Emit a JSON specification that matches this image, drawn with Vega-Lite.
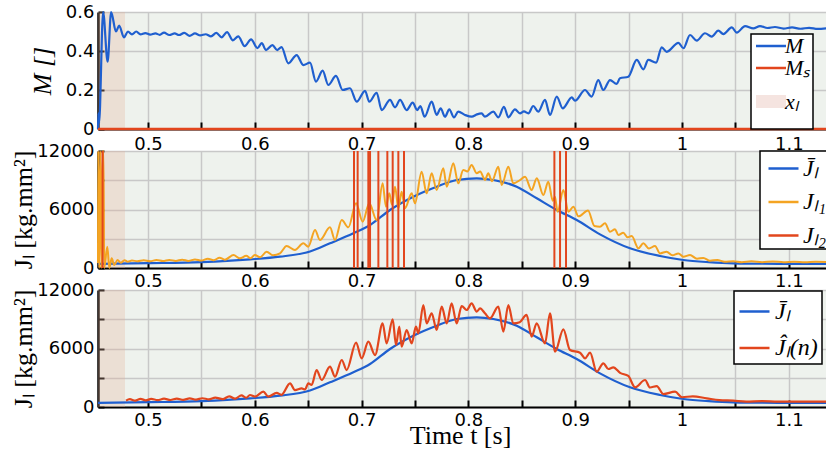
{
  "$schema": "https://vega.github.io/schema/vega-lite/v6.json",
  "autosize": {"type": "none"},
  "padding": {"left": 98, "top": 12, "right": 0, "bottom": 49},
  "background": "white",
  "params": [{"name": "height", "value": 395}],
  "spacing": 22,
  "bounds": "flush",
  "resolve": {"scale": {"color": "independent"}, "legend": {"color": "independent"}},
  "config": {
    "view": {"fill": "#eef2ed", "stroke": null},
    "axis": {
      "labelFont": "DejaVu Sans", "labelFontSize": 18, "labelColor": "black",
      "titleFont": "Liberation Serif", "titleFontSize": 26, "titleFontStyle": "italic", "titleFontWeight": "normal", "titleColor": "black",
      "gridColor": "#c8c8c8", "gridWidth": 1.5, "gridOpacity": 1,
      "domainColor": "black", "tickColor": "black", "tickWidth": 2, "tickSize": -7,
      "labelOverlap": false, "labelFlush": false
    },
    "axisX": {"domainWidth": 2, "labelPadding": 11},
    "axisY": {"domainWidth": 2.5, "labelPadding": 10, "tickSize": -6},
    "legend": {
      "orient": "none", "labelFont": "Liberation Serif", "labelFontStyle": "italic", "labelColor": "black",
      "strokeColor": "black", "fillColor": "white", "symbolType": "stroke", "symbolSize": 900,
      "symbolStrokeWidth": 2.5, "cornerRadius": 0, "labelLimit": 300
    }
  },
  "datasets": {
    "xl": [{"a": 0.4532, "b": 0.4785}],
    "ms": [{"t": 0.4532, "v": 0, "s": "Mₛ"}, {"t": 1.135, "v": 0, "s": "Mₛ"}],
    "m": [
      {"t":0.4532,"v":0,"s":"M"},{"t":0.4536,"v":0.08,"s":"M"},{"t":0.4542,"v":0.03,"s":"M"},{"t":0.458,"v":0.6,"s":"M"},
      {"t":0.4622,"v":0.345,"s":"M"},{"t":0.4655,"v":0.6,"s":"M"},{"t":0.47,"v":0.5,"s":"M"},{"t":0.473,"v":0.53,"s":"M"},
      {"t":0.4775,"v":0.47,"s":"M"},{"t":0.4812,"v":0.5,"s":"M"},{"t":0.485,"v":0.485,"s":"M"},{"t":0.489,"v":0.5,"s":"M"},
      {"t":0.493,"v":0.485,"s":"M"},{"t":0.4975,"v":0.492,"s":"M"},{"t":0.502,"v":0.484,"s":"M"},{"t":0.507,"v":0.49,"s":"M"},
      {"t":0.511,"v":0.483,"s":"M"},{"t":0.515,"v":0.494,"s":"M"},{"t":0.52,"v":0.482,"s":"M"},{"t":0.525,"v":0.49,"s":"M"},
      {"t":0.529,"v":0.482,"s":"M"},{"t":0.534,"v":0.493,"s":"M"},{"t":0.539,"v":0.478,"s":"M"},{"t":0.544,"v":0.49,"s":"M"},
      {"t":0.549,"v":0.48,"s":"M"},{"t":0.554,"v":0.486,"s":"M"},{"t":0.559,"v":0.475,"s":"M"},{"t":0.564,"v":0.493,"s":"M"},
      {"t":0.569,"v":0.47,"s":"M"},{"t":0.574,"v":0.497,"s":"M"},{"t":0.5795,"v":0.455,"s":"M"},{"t":0.5845,"v":0.475,"s":"M"},
      {"t":0.5905,"v":0.425,"s":"M"},{"t":0.5965,"v":0.46,"s":"M"},{"t":0.6025,"v":0.415,"s":"M"},{"t":0.6065,"v":0.44,"s":"M"},
      {"t":0.6105,"v":0.405,"s":"M"},{"t":0.6165,"v":0.43,"s":"M"},{"t":0.621,"v":0.405,"s":"M"},{"t":0.625,"v":0.42,"s":"M"},
      {"t":0.6314,"v":0.337,"s":"M"},{"t":0.6392,"v":0.379,"s":"M"},{"t":0.6454,"v":0.328,"s":"M"},{"t":0.6517,"v":0.34,"s":"M"},
      {"t":0.6573,"v":0.243,"s":"M"},{"t":0.6635,"v":0.299,"s":"M"},{"t":0.6688,"v":0.226,"s":"M"},{"t":0.676,"v":0.272,"s":"M"},
      {"t":0.6823,"v":0.2,"s":"M"},{"t":0.6891,"v":0.209,"s":"M"},{"t":0.6954,"v":0.14,"s":"M"},{"t":0.7032,"v":0.196,"s":"M"},
      {"t":0.7072,"v":0.14,"s":"M"},{"t":0.7141,"v":0.186,"s":"M"},{"t":0.7188,"v":0.097,"s":"M"},{"t":0.7266,"v":0.149,"s":"M"},
      {"t":0.7313,"v":0.111,"s":"M"},{"t":0.736,"v":0.149,"s":"M"},{"t":0.7422,"v":0.097,"s":"M"},{"t":0.7478,"v":0.135,"s":"M"},
      {"t":0.7521,"v":0.097,"s":"M"},{"t":0.755,"v":0.118,"s":"M"},{"t":0.759,"v":0.063,"s":"M"},{"t":0.7656,"v":0.14,"s":"M"},
      {"t":0.7703,"v":0.072,"s":"M"},{"t":0.774,"v":0.106,"s":"M"},{"t":0.7781,"v":0.063,"s":"M"},{"t":0.7821,"v":0.101,"s":"M"},
      {"t":0.7865,"v":0.06,"s":"M"},{"t":0.7905,"v":0.089,"s":"M"},{"t":0.7968,"v":0.072,"s":"M"},{"t":0.8031,"v":0.063,"s":"M"},
      {"t":0.808,"v":0.075,"s":"M"},{"t":0.8124,"v":0.08,"s":"M"},{"t":0.8155,"v":0.063,"s":"M"},{"t":0.8233,"v":0.089,"s":"M"},
      {"t":0.828,"v":0.06,"s":"M"},{"t":0.8333,"v":0.114,"s":"M"},{"t":0.8374,"v":0.06,"s":"M"},{"t":0.8436,"v":0.101,"s":"M"},
      {"t":0.8483,"v":0.08,"s":"M"},{"t":0.852,"v":0.09,"s":"M"},{"t":0.8561,"v":0.08,"s":"M"},{"t":0.8607,"v":0.118,"s":"M"},
      {"t":0.8654,"v":0.089,"s":"M"},{"t":0.8717,"v":0.149,"s":"M"},{"t":0.8764,"v":0.072,"s":"M"},{"t":0.8827,"v":0.166,"s":"M"},
      {"t":0.8883,"v":0.106,"s":"M"},{"t":0.8968,"v":0.162,"s":"M"},{"t":0.8998,"v":0.145,"s":"M"},{"t":0.9092,"v":0.2,"s":"M"},
      {"t":0.9154,"v":0.166,"s":"M"},{"t":0.9216,"v":0.251,"s":"M"},{"t":0.9263,"v":0.2,"s":"M"},{"t":0.9326,"v":0.251,"s":"M"},
      {"t":0.9388,"v":0.231,"s":"M"},{"t":0.9419,"v":0.26,"s":"M"},{"t":0.9497,"v":0.268,"s":"M"},{"t":0.9576,"v":0.354,"s":"M"},
      {"t":0.9638,"v":0.306,"s":"M"},{"t":0.9684,"v":0.354,"s":"M"},{"t":0.9757,"v":0.34,"s":"M"},{"t":0.981,"v":0.419,"s":"M"},
      {"t":0.9857,"v":0.396,"s":"M"},{"t":0.9966,"v":0.442,"s":"M"},{"t":1.0013,"v":0.414,"s":"M"},{"t":1.0075,"v":0.482,"s":"M"},
      {"t":1.0138,"v":0.453,"s":"M"},{"t":1.0215,"v":0.491,"s":"M"},{"t":1.0278,"v":0.474,"s":"M"},{"t":1.034,"v":0.504,"s":"M"},
      {"t":1.0387,"v":0.487,"s":"M"},{"t":1.0466,"v":0.521,"s":"M"},{"t":1.0512,"v":0.494,"s":"M"},{"t":1.059,"v":0.528,"s":"M"},
      {"t":1.0667,"v":0.516,"s":"M"},{"t":1.073,"v":0.528,"s":"M"},{"t":1.08,"v":0.518,"s":"M"},{"t":1.087,"v":0.523,"s":"M"},
      {"t":1.095,"v":0.515,"s":"M"},{"t":1.103,"v":0.521,"s":"M"},{"t":1.111,"v":0.514,"s":"M"},{"t":1.119,"v":0.519,"s":"M"},
      {"t":1.127,"v":0.513,"s":"M"},{"t":1.135,"v":0.516,"s":"M"}
    ],
    "jbar": [
      {"t":0.4532,"v":420,"s":"J̄ₗ"},{"t":0.5,"v":490,"s":"J̄ₗ"},{"t":0.55,"v":600,"s":"J̄ₗ"},{"t":0.5955,"v":880,"s":"J̄ₗ"},
      {"t":0.6236,"v":1160,"s":"J̄ₗ"},{"t":0.6517,"v":1700,"s":"J̄ₗ"},{"t":0.6704,"v":2530,"s":"J̄ₗ"},{"t":0.6923,"v":3560,"s":"J̄ₗ"},
      {"t":0.7079,"v":4410,"s":"J̄ₗ"},{"t":0.7266,"v":5950,"s":"J̄ₗ"},{"t":0.7484,"v":7310,"s":"J̄ₗ"},{"t":0.7703,"v":8340,"s":"J̄ₗ"},
      {"t":0.789,"v":9025,"s":"J̄ₗ"},{"t":0.8078,"v":9200,"s":"J̄ₗ"},{"t":0.8233,"v":9025,"s":"J̄ₗ"},{"t":0.8452,"v":8340,"s":"J̄ₗ"},
      {"t":0.864,"v":7150,"s":"J̄ₗ"},{"t":0.8827,"v":5950,"s":"J̄ₗ"},{"t":0.9014,"v":4920,"s":"J̄ₗ"},{"t":0.9232,"v":3450,"s":"J̄ₗ"},
      {"t":0.9513,"v":2020,"s":"J̄ₗ"},{"t":0.9794,"v":1230,"s":"J̄ₗ"},{"t":1.0012,"v":820,"s":"J̄ₗ"},{"t":1.025,"v":600,"s":"J̄ₗ"},
      {"t":1.048,"v":480,"s":"J̄ₗ"},{"t":1.09,"v":430,"s":"J̄ₗ"},{"t":1.135,"v":420,"s":"J̄ₗ"}
    ],
    "jl1": [
      {"t":0.4532,"v":500,"s":"Jₗ₁"},{"t":0.4534,"v":12000,"s":"Jₗ₁"},{"t":0.4545,"v":0,"s":"Jₗ₁"},{"t":0.4555,"v":12000,"s":"Jₗ₁"},
      {"t":0.4566,"v":0,"s":"Jₗ₁"},{"t":0.4576,"v":12000,"s":"Jₗ₁"},{"t":0.4583,"v":12000,"s":"Jₗ₁"},{"t":0.459,"v":0,"s":"Jₗ₁"},
      {"t":0.4619,"v":2180,"s":"Jₗ₁"},{"t":0.4638,"v":0,"s":"Jₗ₁"},{"t":0.466,"v":990,"s":"Jₗ₁"},{"t":0.4684,"v":300,"s":"Jₗ₁"},
      {"t":0.4715,"v":820,"s":"Jₗ₁"},{"t":0.4745,"v":550,"s":"Jₗ₁"},{"t":0.478,"v":800,"s":"Jₗ₁"},{"t":0.481,"v":650,"s":"Jₗ₁"},
      {"t":0.485,"v":760,"s":"Jₗ₁"},{"t":0.49,"v":700,"s":"Jₗ₁"},{"t":0.496,"v":800,"s":"Jₗ₁"},{"t":0.502,"v":700,"s":"Jₗ₁"},
      {"t":0.508,"v":820,"s":"Jₗ₁"},{"t":0.514,"v":720,"s":"Jₗ₁"},{"t":0.52,"v":830,"s":"Jₗ₁"},{"t":0.526,"v":730,"s":"Jₗ₁"},
      {"t":0.532,"v":850,"s":"Jₗ₁"},{"t":0.538,"v":730,"s":"Jₗ₁"},{"t":0.544,"v":880,"s":"Jₗ₁"},{"t":0.55,"v":760,"s":"Jₗ₁"},
      {"t":0.556,"v":960,"s":"Jₗ₁"},{"t":0.5615,"v":800,"s":"Jₗ₁"},{"t":0.567,"v":1050,"s":"Jₗ₁"},{"t":0.572,"v":850,"s":"Jₗ₁"},
      {"t":0.58,"v":1330,"s":"Jₗ₁"},{"t":0.5861,"v":990,"s":"Jₗ₁"},{"t":0.592,"v":1250,"s":"Jₗ₁"},{"t":0.596,"v":1000,"s":"Jₗ₁"},
      {"t":0.6,"v":1330,"s":"Jₗ₁"},{"t":0.605,"v":1100,"s":"Jₗ₁"},{"t":0.6111,"v":1670,"s":"Jₗ₁"},{"t":0.617,"v":1300,"s":"Jₗ₁"},
      {"t":0.6236,"v":1500,"s":"Jₗ₁"},{"t":0.6298,"v":2260,"s":"Jₗ₁"},{"t":0.6376,"v":1850,"s":"Jₗ₁"},{"t":0.6454,"v":2530,"s":"Jₗ₁"},
      {"t":0.6501,"v":2190,"s":"Jₗ₁"},{"t":0.6564,"v":3900,"s":"Jₗ₁"},{"t":0.661,"v":2870,"s":"Jₗ₁"},{"t":0.6704,"v":4170,"s":"Jₗ₁"},
      {"t":0.6751,"v":2870,"s":"Jₗ₁"},{"t":0.6814,"v":4920,"s":"Jₗ₁"},{"t":0.6876,"v":4170,"s":"Jₗ₁"},{"t":0.6948,"v":6630,"s":"Jₗ₁"},
      {"t":0.701,"v":4750,"s":"Jₗ₁"},{"t":0.7072,"v":6630,"s":"Jₗ₁"},{"t":0.7141,"v":4920,"s":"Jₗ₁"},{"t":0.7197,"v":8680,"s":"Jₗ₁"},
      {"t":0.7228,"v":6290,"s":"Jₗ₁"},{"t":0.7259,"v":7660,"s":"Jₗ₁"},{"t":0.7285,"v":6500,"s":"Jₗ₁"},{"t":0.7313,"v":8340,"s":"Jₗ₁"},
      {"t":0.7344,"v":6120,"s":"Jₗ₁"},{"t":0.7375,"v":7830,"s":"Jₗ₁"},{"t":0.7406,"v":6120,"s":"Jₗ₁"},{"t":0.7469,"v":7660,"s":"Jₗ₁"},
      {"t":0.75,"v":6630,"s":"Jₗ₁"},{"t":0.7562,"v":9880,"s":"Jₗ₁"},{"t":0.7609,"v":7660,"s":"Jₗ₁"},{"t":0.7656,"v":9710,"s":"Jₗ₁"},
      {"t":0.7703,"v":8000,"s":"Jₗ₁"},{"t":0.7765,"v":10230,"s":"Jₗ₁"},{"t":0.7797,"v":8340,"s":"Jₗ₁"},{"t":0.7859,"v":10740,"s":"Jₗ₁"},
      {"t":0.7905,"v":8680,"s":"Jₗ₁"},{"t":0.7952,"v":10050,"s":"Jₗ₁"},{"t":0.799,"v":9900,"s":"Jₗ₁"},{"t":0.803,"v":10560,"s":"Jₗ₁"},
      {"t":0.8078,"v":9710,"s":"Jₗ₁"},{"t":0.811,"v":9900,"s":"Jₗ₁"},{"t":0.8155,"v":9030,"s":"Jₗ₁"},{"t":0.8186,"v":9710,"s":"Jₗ₁"},
      {"t":0.822,"v":8900,"s":"Jₗ₁"},{"t":0.828,"v":10390,"s":"Jₗ₁"},{"t":0.8312,"v":8510,"s":"Jₗ₁"},{"t":0.8374,"v":10390,"s":"Jₗ₁"},
      {"t":0.842,"v":8680,"s":"Jₗ₁"},{"t":0.848,"v":9000,"s":"Jₗ₁"},{"t":0.853,"v":9370,"s":"Jₗ₁"},{"t":0.8592,"v":8000,"s":"Jₗ₁"},
      {"t":0.864,"v":9200,"s":"Jₗ₁"},{"t":0.8702,"v":7490,"s":"Jₗ₁"},{"t":0.8748,"v":8850,"s":"Jₗ₁"},{"t":0.879,"v":6900,"s":"Jₗ₁"},
      {"t":0.881,"v":7300,"s":"Jₗ₁"},{"t":0.8835,"v":5770,"s":"Jₗ₁"},{"t":0.8889,"v":8000,"s":"Jₗ₁"},{"t":0.8936,"v":5770,"s":"Jₗ₁"},
      {"t":0.8983,"v":6290,"s":"Jₗ₁"},{"t":0.903,"v":5300,"s":"Jₗ₁"},{"t":0.912,"v":5900,"s":"Jₗ₁"},{"t":0.918,"v":4300,"s":"Jₗ₁"},
      {"t":0.9232,"v":4240,"s":"Jₗ₁"},{"t":0.9279,"v":4580,"s":"Jₗ₁"},{"t":0.9326,"v":3720,"s":"Jₗ₁"},{"t":0.9373,"v":3970,"s":"Jₗ₁"},
      {"t":0.9404,"v":3380,"s":"Jₗ₁"},{"t":0.945,"v":3620,"s":"Jₗ₁"},{"t":0.949,"v":3150,"s":"Jₗ₁"},{"t":0.9529,"v":3280,"s":"Jₗ₁"},
      {"t":0.9591,"v":2020,"s":"Jₗ₁"},{"t":0.9638,"v":2530,"s":"Jₗ₁"},{"t":0.969,"v":2000,"s":"Jₗ₁"},{"t":0.9747,"v":2260,"s":"Jₗ₁"},
      {"t":0.9794,"v":1500,"s":"Jₗ₁"},{"t":0.9856,"v":1670,"s":"Jₗ₁"},{"t":0.991,"v":1300,"s":"Jₗ₁"},{"t":0.9966,"v":1500,"s":"Jₗ₁"},
      {"t":1.0012,"v":1160,"s":"Jₗ₁"},{"t":1.0075,"v":1330,"s":"Jₗ₁"},{"t":1.014,"v":950,"s":"Jₗ₁"},{"t":1.02,"v":1030,"s":"Jₗ₁"},
      {"t":1.0262,"v":750,"s":"Jₗ₁"},{"t":1.033,"v":820,"s":"Jₗ₁"},{"t":1.04,"v":650,"s":"Jₗ₁"},{"t":1.048,"v":700,"s":"Jₗ₁"},
      {"t":1.056,"v":600,"s":"Jₗ₁"},{"t":1.065,"v":680,"s":"Jₗ₁"},{"t":1.075,"v":600,"s":"Jₗ₁"},{"t":1.085,"v":660,"s":"Jₗ₁"},
      {"t":1.095,"v":600,"s":"Jₗ₁"},{"t":1.105,"v":650,"s":"Jₗ₁"},{"t":1.115,"v":600,"s":"Jₗ₁"},{"t":1.125,"v":640,"s":"Jₗ₁"},
      {"t":1.135,"v":610,"s":"Jₗ₁"}
    ],
    "jl2": [
      {"t":0.4575,"s":"Jₗ₂"},{"t":0.6929,"s":"Jₗ₂"},{"t":0.6963,"s":"Jₗ₂"},{"t":0.7063,"s":"Jₗ₂"},{"t":0.7079,"s":"Jₗ₂"},
      {"t":0.7157,"s":"Jₗ₂"},{"t":0.7241,"s":"Jₗ₂"},{"t":0.7291,"s":"Jₗ₂"},{"t":0.7344,"s":"Jₗ₂"},{"t":0.7397,"s":"Jₗ₂"},
      {"t":0.8805,"s":"Jₗ₂"},{"t":0.8858,"s":"Jₗ₂"},{"t":0.8914,"s":"Jₗ₂"}
    ],
    "jhat": [
      {"t":0.4794,"v":650,"s":"Ĵₗ(n)"},{"t":0.483,"v":800,"s":"Ĵₗ(n)"},{"t":0.488,"v":650,"s":"Ĵₗ(n)"},{"t":0.493,"v":830,"s":"Ĵₗ(n)"},
      {"t":0.498,"v":680,"s":"Ĵₗ(n)"},{"t":0.503,"v":830,"s":"Ĵₗ(n)"},{"t":0.509,"v":700,"s":"Ĵₗ(n)"},{"t":0.515,"v":850,"s":"Ĵₗ(n)"},
      {"t":0.521,"v":720,"s":"Ĵₗ(n)"},{"t":0.527,"v":860,"s":"Ĵₗ(n)"},{"t":0.533,"v":730,"s":"Ĵₗ(n)"},{"t":0.539,"v":880,"s":"Ĵₗ(n)"},
      {"t":0.545,"v":760,"s":"Ĵₗ(n)"},{"t":0.551,"v":900,"s":"Ĵₗ(n)"},{"t":0.557,"v":780,"s":"Ĵₗ(n)"},{"t":0.563,"v":960,"s":"Ĵₗ(n)"},
      {"t":0.57,"v":800,"s":"Ĵₗ(n)"},{"t":0.576,"v":1100,"s":"Ĵₗ(n)"},{"t":0.5815,"v":850,"s":"Ĵₗ(n)"},{"t":0.5875,"v":1200,"s":"Ĵₗ(n)"},
      {"t":0.592,"v":950,"s":"Ĵₗ(n)"},{"t":0.5955,"v":1230,"s":"Ĵₗ(n)"},{"t":0.6002,"v":1060,"s":"Ĵₗ(n)"},{"t":0.608,"v":1570,"s":"Ĵₗ(n)"},
      {"t":0.6126,"v":1060,"s":"Ĵₗ(n)"},{"t":0.6205,"v":1450,"s":"Ĵₗ(n)"},{"t":0.625,"v":1250,"s":"Ĵₗ(n)"},{"t":0.633,"v":2430,"s":"Ĵₗ(n)"},
      {"t":0.6376,"v":1740,"s":"Ĵₗ(n)"},{"t":0.6439,"v":1910,"s":"Ĵₗ(n)"},{"t":0.647,"v":1800,"s":"Ĵₗ(n)"},{"t":0.6501,"v":2430,"s":"Ĵₗ(n)"},
      {"t":0.6532,"v":2260,"s":"Ĵₗ(n)"},{"t":0.6579,"v":3790,"s":"Ĵₗ(n)"},{"t":0.6626,"v":2770,"s":"Ĵₗ(n)"},{"t":0.6704,"v":4140,"s":"Ĵₗ(n)"},
      {"t":0.6751,"v":3110,"s":"Ĵₗ(n)"},{"t":0.6814,"v":4820,"s":"Ĵₗ(n)"},{"t":0.686,"v":3790,"s":"Ĵₗ(n)"},{"t":0.6948,"v":6600,"s":"Ĵₗ(n)"},
      {"t":0.7001,"v":4990,"s":"Ĵₗ(n)"},{"t":0.7063,"v":6700,"s":"Ĵₗ(n)"},{"t":0.7126,"v":5330,"s":"Ĵₗ(n)"},{"t":0.7197,"v":8580,"s":"Ĵₗ(n)"},
      {"t":0.7234,"v":6530,"s":"Ĵₗ(n)"},{"t":0.7291,"v":8990,"s":"Ĵₗ(n)"},{"t":0.7322,"v":6360,"s":"Ĵₗ(n)"},{"t":0.7353,"v":8240,"s":"Ĵₗ(n)"},
      {"t":0.7375,"v":6190,"s":"Ĵₗ(n)"},{"t":0.7422,"v":7900,"s":"Ĵₗ(n)"},{"t":0.7469,"v":6530,"s":"Ĵₗ(n)"},{"t":0.7509,"v":8240,"s":"Ĵₗ(n)"},
      {"t":0.7531,"v":7560,"s":"Ĵₗ(n)"},{"t":0.7578,"v":10460,"s":"Ĵₗ(n)"},{"t":0.7609,"v":8580,"s":"Ĵₗ(n)"},{"t":0.7656,"v":9610,"s":"Ĵₗ(n)"},
      {"t":0.7703,"v":7900,"s":"Ĵₗ(n)"},{"t":0.775,"v":10290,"s":"Ĵₗ(n)"},{"t":0.7797,"v":8580,"s":"Ĵₗ(n)"},{"t":0.7843,"v":10630,"s":"Ĵₗ(n)"},
      {"t":0.789,"v":8580,"s":"Ĵₗ(n)"},{"t":0.7937,"v":10360,"s":"Ĵₗ(n)"},{"t":0.7984,"v":9950,"s":"Ĵₗ(n)"},{"t":0.803,"v":10630,"s":"Ĵₗ(n)"},
      {"t":0.8078,"v":9780,"s":"Ĵₗ(n)"},{"t":0.8109,"v":10120,"s":"Ĵₗ(n)"},{"t":0.8155,"v":9610,"s":"Ĵₗ(n)"},{"t":0.8202,"v":9100,"s":"Ĵₗ(n)"},
      {"t":0.828,"v":10290,"s":"Ĵₗ(n)"},{"t":0.8327,"v":7720,"s":"Ĵₗ(n)"},{"t":0.8374,"v":10460,"s":"Ĵₗ(n)"},{"t":0.842,"v":8580,"s":"Ĵₗ(n)"},
      {"t":0.848,"v":8700,"s":"Ĵₗ(n)"},{"t":0.8545,"v":9440,"s":"Ĵₗ(n)"},{"t":0.8592,"v":7210,"s":"Ĵₗ(n)"},{"t":0.8639,"v":8580,"s":"Ĵₗ(n)"},
      {"t":0.8717,"v":6530,"s":"Ĵₗ(n)"},{"t":0.8764,"v":9610,"s":"Ĵₗ(n)"},{"t":0.8811,"v":5670,"s":"Ĵₗ(n)"},{"t":0.8889,"v":7970,"s":"Ĵₗ(n)"},
      {"t":0.8951,"v":5850,"s":"Ĵₗ(n)"},{"t":0.9045,"v":5570,"s":"Ĵₗ(n)"},{"t":0.9092,"v":4990,"s":"Ĵₗ(n)"},{"t":0.9139,"v":5570,"s":"Ĵₗ(n)"},
      {"t":0.9201,"v":3620,"s":"Ĵₗ(n)"},{"t":0.9263,"v":4480,"s":"Ĵₗ(n)"},{"t":0.931,"v":3900,"s":"Ĵₗ(n)"},{"t":0.9357,"v":4070,"s":"Ĵₗ(n)"},
      {"t":0.942,"v":3500,"s":"Ĵₗ(n)"},{"t":0.9497,"v":3180,"s":"Ĵₗ(n)"},{"t":0.956,"v":2020,"s":"Ĵₗ(n)"},{"t":0.9654,"v":2770,"s":"Ĵₗ(n)"},
      {"t":0.97,"v":2000,"s":"Ĵₗ(n)"},{"t":0.9763,"v":2150,"s":"Ĵₗ(n)"},{"t":0.9825,"v":1330,"s":"Ĵₗ(n)"},{"t":0.9935,"v":1570,"s":"Ĵₗ(n)"},
      {"t":1.0,"v":1000,"s":"Ĵₗ(n)"},{"t":1.01,"v":1100,"s":"Ĵₗ(n)"},{"t":1.0231,"v":890,"s":"Ĵₗ(n)"},{"t":1.035,"v":700,"s":"Ĵₗ(n)"},
      {"t":1.048,"v":650,"s":"Ĵₗ(n)"},{"t":1.06,"v":560,"s":"Ĵₗ(n)"},{"t":1.075,"v":600,"s":"Ĵₗ(n)"},{"t":1.09,"v":560,"s":"Ĵₗ(n)"},
      {"t":1.11,"v":560,"s":"Ĵₗ(n)"},{"t":1.135,"v":545,"s":"Ĵₗ(n)"}
    ]
  },
  "vconcat": [
    {
      "width": 728, "height": 117,
      "layer": [
        {
          "data": {"name": "xl"},
          "mark": {"type": "rect", "color": "#e5b29b", "opacity": 0.3},
          "encoding": {
            "x": {"field": "a", "type": "quantitative", "scale": {"domain": [0.4532, 1.1348], "nice": false, "zero": false},
              "axis": {"values": [0.5,0.55,0.6,0.65,0.7,0.75,0.8,0.85,0.9,0.95,1,1.05,1.1], "format": "~g", "labelPadding": 13, "tickCount": 40,
                "labelExpr": "abs(datum.value*10-round(datum.value*10))<0.001 ? datum.label : ''", "title": null, "grid": true, "labelOverlap": false}},
            "x2": {"field": "b"}
          }
        },
        {
          "data": {"name": "m"},
          "mark": {"type": "line", "strokeWidth": 2.2, "interpolate": "monotone"},
          "encoding": {
            "x": {"field": "t", "type": "quantitative"},
            "y": {"field": "v", "type": "quantitative", "scale": {"domain": [0, 0.6], "nice": false},
              "axis": {"values": [0, 0.2, 0.4, 0.6], "tickCount": 20,
                "labelExpr": "datum.value < 0.01 ? '0' : format(datum.value, '.1f')",
                "title": "M []", "titleX": -48, "titleY": 58.5,
                "titleAngle": 270, "titleBaseline": "alphabetic", "titleAlign": "center", "grid": true,
                "labelOverlap": false, "labelBound": false, "labelFlush": false}},
            "color": {"field": "s", "type": "nominal",
              "scale": {"domain": ["M", "Mₛ", "xₗ"], "range": ["#1f5fcf", "#e2461d", "#f5e4e0"]},
              "legend": {"title": null, "legendX": 653, "legendY": 22, "labelFontSize": 22, "padding": 1, "rowPadding": -3.5,
                "symbolOffset": 8, "labelOffset": 3,
                "encode": {"symbols": {"update": {"strokeWidth": {"signal": "datum.value === 'xₗ' ? 13 : 2.5"}}},
                           "legend": {"update": {"strokeWidth": {"value": 1.5}}}}}}
          }
        },
        {
          "data": {"name": "ms"},
          "mark": {"type": "line", "strokeWidth": 2.5},
          "encoding": {
            "x": {"field": "t", "type": "quantitative"},
            "y": {"field": "v", "type": "quantitative"},
            "color": {"field": "s", "type": "nominal"}
          }
        }
      ]
    },
    {
      "width": 728, "height": 117,
      "layer": [
        {
          "data": {"name": "xl"},
          "mark": {"type": "rect", "color": "#e5b29b", "opacity": 0.3},
          "encoding": {
            "x": {"field": "a", "type": "quantitative", "scale": {"domain": [0.4532, 1.1348], "nice": false, "zero": false},
              "axis": {"values": [0.5,0.55,0.6,0.65,0.7,0.75,0.8,0.85,0.9,0.95,1,1.05,1.1], "format": "~g", "tickCount": 40,
                "labelExpr": "abs(datum.value*10-round(datum.value*10))<0.001 ? datum.label : ''", "title": null, "grid": true, "labelOverlap": false}},
            "x2": {"field": "b"}
          }
        },
        {
          "data": {"name": "jbar"},
          "mark": {"type": "line", "strokeWidth": 2.2, "interpolate": "monotone"},
          "encoding": {
            "x": {"field": "t", "type": "quantitative"},
            "y": {"field": "v", "type": "quantitative", "scale": {"domain": [0, 12000], "nice": false},
              "axis": {"values": [0, 3000, 6000, 9000, 12000], "format": "d", "tickCount": 20,
                "labelExpr": "datum.value % 6000 === 0 ? datum.label : ''",
                "title": "Jₗ [kg.mm²]", "titleFontStyle": "normal", "titleX": -67, "titleY": 58.5,
                "titleAngle": 270, "titleBaseline": "alphabetic", "titleAlign": "center", "grid": true, "labelOverlap": false}},
            "color": {"field": "s", "type": "nominal",
              "scale": {"domain": ["J̄ₗ", "Jₗ₁", "Jₗ₂"], "range": ["#1f5fcf", "#f4a422", "#e2461d"]},
              "legend": {"title": null, "legendX": 662, "legendY": 0, "labelFontSize": 24, "padding": 1, "rowPadding": 4.5,
                "symbolOffset": 6, "labelOffset": 3,
                "encode": {"legend": {"update": {"strokeWidth": {"value": 1.5}}}}}}
          }
        },
        {
          "data": {"name": "jl1"},
          "mark": {"type": "line", "strokeWidth": 2, "interpolate": "monotone"},
          "encoding": {
            "x": {"field": "t", "type": "quantitative"},
            "y": {"field": "v", "type": "quantitative"},
            "color": {"field": "s", "type": "nominal"}
          }
        },
        {
          "data": {"name": "jl2"},
          "mark": {"type": "rule", "strokeWidth": 2},
          "encoding": {
            "x": {"field": "t", "type": "quantitative"},
            "color": {"field": "s", "type": "nominal"}
          }
        }
      ]
    },
    {
      "width": 728, "height": 117,
      "layer": [
        {
          "data": {"name": "xl"},
          "mark": {"type": "rect", "color": "#e5b29b", "opacity": 0.3},
          "encoding": {
            "x": {"field": "a", "type": "quantitative", "scale": {"domain": [0.4532, 1.1348], "nice": false, "zero": false},
              "axis": {"values": [0.5,0.55,0.6,0.65,0.7,0.75,0.8,0.85,0.9,0.95,1,1.05,1.1], "format": "~g", "tickCount": 40,
                "labelExpr": "abs(datum.value*10-round(datum.value*10))<0.001 ? datum.label : ''",
                "title": "Time t [s]", "titleFontStyle": "normal", "titleX": 362, "titleY": 36,
                "titleBaseline": "alphabetic", "titleAlign": "center", "grid": true, "labelOverlap": false}},
            "x2": {"field": "b"}
          }
        },
        {
          "data": {"name": "jbar"},
          "mark": {"type": "line", "strokeWidth": 2.2, "interpolate": "monotone"},
          "encoding": {
            "x": {"field": "t", "type": "quantitative"},
            "y": {"field": "v", "type": "quantitative", "scale": {"domain": [0, 12000], "nice": false},
              "axis": {"values": [0, 3000, 6000, 9000, 12000], "format": "d", "tickCount": 20,
                "labelExpr": "datum.value % 6000 === 0 ? datum.label : ''",
                "title": "Jₗ [kg.mm²]", "titleFontStyle": "normal", "titleX": -67, "titleY": 58.5,
                "titleAngle": 270, "titleBaseline": "alphabetic", "titleAlign": "center", "grid": true, "labelOverlap": false}},
            "color": {"field": "s", "type": "nominal",
              "scale": {"domain": ["J̄ₗ", "Ĵₗ(n)"], "range": ["#1f5fcf", "#e2461d"]},
              "legend": {"title": null, "legendX": 636, "legendY": 1, "labelFontSize": 24, "padding": 4, "rowPadding": 7.5,
                "symbolOffset": 0, "labelOffset": 4,
                "encode": {"legend": {"update": {"strokeWidth": {"value": 1.5}}}}}}
          }
        },
        {
          "data": {"name": "jhat"},
          "mark": {"type": "line", "strokeWidth": 2.2, "interpolate": "monotone"},
          "encoding": {
            "x": {"field": "t", "type": "quantitative"},
            "y": {"field": "v", "type": "quantitative"},
            "color": {"field": "s", "type": "nominal"}
          }
        }
      ]
    }
  ]
}
